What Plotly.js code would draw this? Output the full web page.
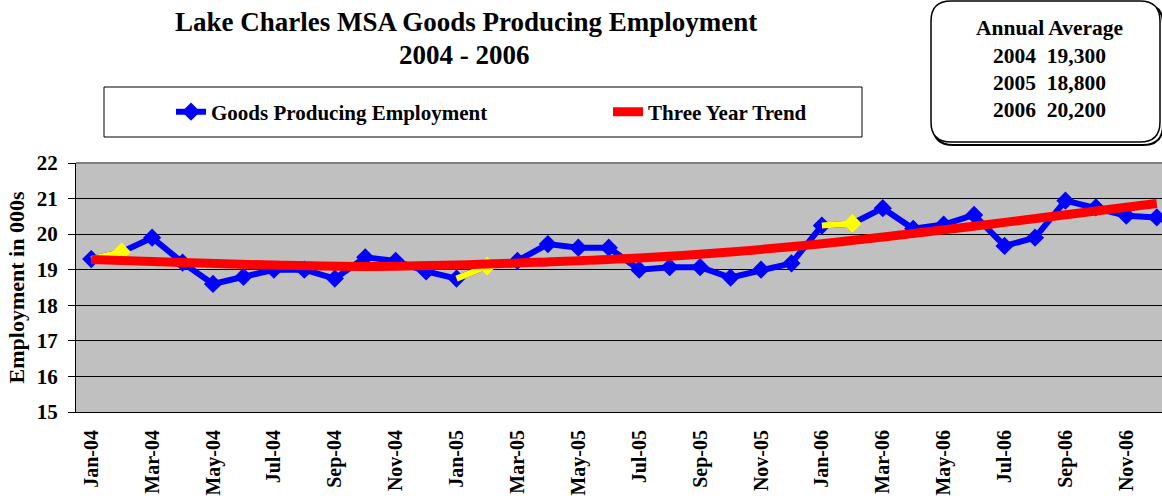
<!DOCTYPE html>
<html>
<head>
<meta charset="utf-8">
<script src="https://cdn.plot.ly/plotly-3.0.1.min.js"></script>
<style>html,body{margin:0;padding:0;background:#fff;}#chart{width:1162px;height:500px;}</style>
</head>
<body>
<div id="chart"></div>
<script>
// ---- data ----
const months = ['Jan-04','Feb-04','Mar-04','Apr-04','May-04','Jun-04','Jul-04','Aug-04','Sep-04','Oct-04','Nov-04','Dec-04',
                'Jan-05','Feb-05','Mar-05','Apr-05','May-05','Jun-05','Jul-05','Aug-05','Sep-05','Oct-05','Nov-05','Dec-05',
                'Jan-06','Feb-06','Mar-06','Apr-06','May-06','Jun-06','Jul-06','Aug-06','Sep-06','Oct-06','Nov-06','Dec-06'];
const employment = [19.3,19.5,19.9,19.2,18.6,18.8,19.0,19.0,18.75,19.35,19.25,18.95,
                    18.75,19.1,19.25,19.72,19.62,19.62,19.0,19.07,19.07,18.78,19.0,19.18,
                    20.24,20.3,20.73,20.15,20.27,20.54,19.67,19.9,20.94,20.75,20.52,20.47];
const highlightMonths = ['Feb-04','Feb-05','Feb-06'];
const trendMonths = ['Jan-04','Apr-04','Jul-04','Oct-04','Jan-05','Apr-05','Jul-05','Oct-05','Jan-06','Apr-06','Jul-06','Oct-06','Dec-06'];
const trendValues = [19.29,19.20,19.13,19.09,19.13,19.22,19.33,19.50,19.73,20.02,20.33,20.65,20.86];
const labelMonths = months.filter((m, i) => i % 2 === 0);
const annualYears = ['2004','2005','2006'];
const annualAvg = ['19,300','18,800','20,200'];

// ---- geometry helpers (pixel -> paper) ----
const M = {l:76, r:0, t:163, b:88};
const W = 1162, H = 500;
const PW = W - M.l - M.r, PH = H - M.t - M.b;
const px = x => (x - M.l) / PW;
const py = y => (H - M.b - y) / PH;

const FONT = 'Liberation Serif, Times New Roman, serif';
const idx = m => months.indexOf(m);
const xIdx = months.map((m, i) => i);

const traces = [];
traces.push({
  x: xIdx, y: employment, type: 'scatter', mode: 'lines+markers',
  name: 'Goods Producing Employment',
  line: {color: '#0000FF', width: 6},
  marker: {symbol: 'diamond', size: 14, color: months.map(m => highlightMonths.includes(m) ? '#FFFF00' : '#0000FF'),
           line: {width: 0}},
  hoverinfo: 'y'
});
highlightMonths.forEach(m => {
  const i = idx(m);
  traces.push({
    x: [i - 1, i], y: [employment[i - 1], employment[i]], type: 'scatter', mode: 'lines',
    line: {color: '#FFFF00', width: 6}, showlegend: false, hoverinfo: 'skip'
  });
  traces.push({
    x: [i], y: [employment[i]], type: 'scatter', mode: 'markers',
    marker: {symbol: 'diamond', size: 14, color: '#FFFF00'}, showlegend: false, hoverinfo: 'skip'
  });
});
traces.push({
  x: trendMonths.map(idx), y: trendValues, type: 'scatter', mode: 'lines',
  name: 'Three Year Trend',
  line: {color: '#FF0000', width: 9, shape: 'spline', smoothing: 1},
  hoverinfo: 'skip'
});

const xr = [-0.5, 35.5 - 10 / 30.45];

function rrect(x0, y0, x1, y1, r) {
  const X = v => px(v).toFixed(5), Y = v => py(v).toFixed(5);
  return 'M' + X(x0 + r) + ',' + Y(y0) + ' L' + X(x1 - r) + ',' + Y(y0) +
    ' Q' + X(x1) + ',' + Y(y0) + ' ' + X(x1) + ',' + Y(y0 + r) +
    ' L' + X(x1) + ',' + Y(y1 - r) +
    ' Q' + X(x1) + ',' + Y(y1) + ' ' + X(x1 - r) + ',' + Y(y1) +
    ' L' + X(x0 + r) + ',' + Y(y1) +
    ' Q' + X(x0) + ',' + Y(y1) + ' ' + X(x0) + ',' + Y(y1 - r) +
    ' L' + X(x0) + ',' + Y(y0 + r) +
    ' Q' + X(x0) + ',' + Y(y0) + ' ' + X(x0 + r) + ',' + Y(y0) + ' Z';
}

const annotations = [
  {text: '<b>Lake Charles MSA Goods Producing Employment</b>', x: px(466), y: py(22), font: {size: 27}},
  {text: '<b>2004 - 2006</b>', x: px(464), y: py(55), font: {size: 27}},
  {text: '<b>Annual Average</b>', x: px(1049), y: py(28), font: {size: 21.5}}
];
annualYears.forEach((yr, i) => {
  annotations.push({text: '<b>' + yr + '\u00A0\u00A0' + annualAvg[i] + '</b>', x: px(1049), y: py(56 + 27 * i), font: {size: 21.5}});
});
annotations.forEach(a => {
  a.xref = 'paper'; a.yref = 'paper'; a.showarrow = false; a.xanchor = 'center'; a.yanchor = 'middle';
  a.font.family = FONT; a.font.color = '#000';
});

const layout = {
  width: W, height: H,
  margin: {l: M.l, r: M.r, t: M.t, b: M.b, pad: 0},
  paper_bgcolor: '#FFFFFF', plot_bgcolor: '#C0C0C0',
  font: {family: FONT, color: '#000'},
  showlegend: true,
  legend: {
    orientation: 'h', x: px(171), xanchor: 'left', y: py(112), yanchor: 'middle',
    font: {family: FONT, size: 21, color: '#000', weight: 'bold'},
    bgcolor: 'rgba(0,0,0,0)', borderwidth: 0, entrywidth: 392, entrywidthmode: 'pixels',
    traceorder: 'normal'
  },
  xaxis: {
    range: xr, tickvals: labelMonths.map(idx), ticktext: labelMonths, tickangle: -90,
    ticks: '', showgrid: false, zeroline: false, showline: true, linecolor: '#000', linewidth: 1,
    tickfont: {family: FONT, size: 20, color: '#000', weight: 'bold'}, ticklabelstandoff: 9,
    fixedrange: true
  },
  xaxis2: {
    overlaying: 'x', anchor: 'y', side: 'bottom', range: xr,
    tickvals: labelMonths.map(m => idx(m) - 0.5), ticks: 'outside', ticklen: 6, tickcolor: '#000',
    showticklabels: false, showgrid: false, zeroline: false, showline: false
  },
  yaxis: {
    range: [15, 22], dtick: 1, tick0: 15, showgrid: true, gridcolor: '#000', gridwidth: 1,
    zeroline: false, showline: true, linecolor: '#000', linewidth: 1,
    ticks: 'outside', ticklen: 7, tickcolor: '#000', ticklabelstandoff: 6,
    tickfont: {family: FONT, size: 21, color: '#000', weight: 'bold'},
    title: {text: '<b>Employment in 000s</b>', font: {family: FONT, size: 22, color: '#000'}, standoff: 6},
    fixedrange: true
  },
  shapes: [
    {type: 'line', xref: 'paper', yref: 'paper', x0: 0, x1: 1, y0: 1, y1: 1, line: {color: '#808080', width: 2}},
    {type: 'rect', xref: 'paper', yref: 'paper', x0: px(104), x1: px(862), y0: py(137), y1: py(87),
     line: {color: '#000', width: 1}, fillcolor: 'rgba(0,0,0,0)'},
    {type: 'path', xref: 'paper', yref: 'paper', path: rrect(933, 4, 1163, 145, 20), line: {color: '#000', width: 2}},
    {type: 'path', xref: 'paper', yref: 'paper', path: rrect(931, 1, 1160, 142, 20), line: {color: '#000', width: 1.5}, fillcolor: '#FFFFFF'}
  ],
  annotations: annotations
};

Plotly.newPlot('chart', traces, layout, {displayModeBar: false, staticPlot: true});
</script>
</body>
</html>
